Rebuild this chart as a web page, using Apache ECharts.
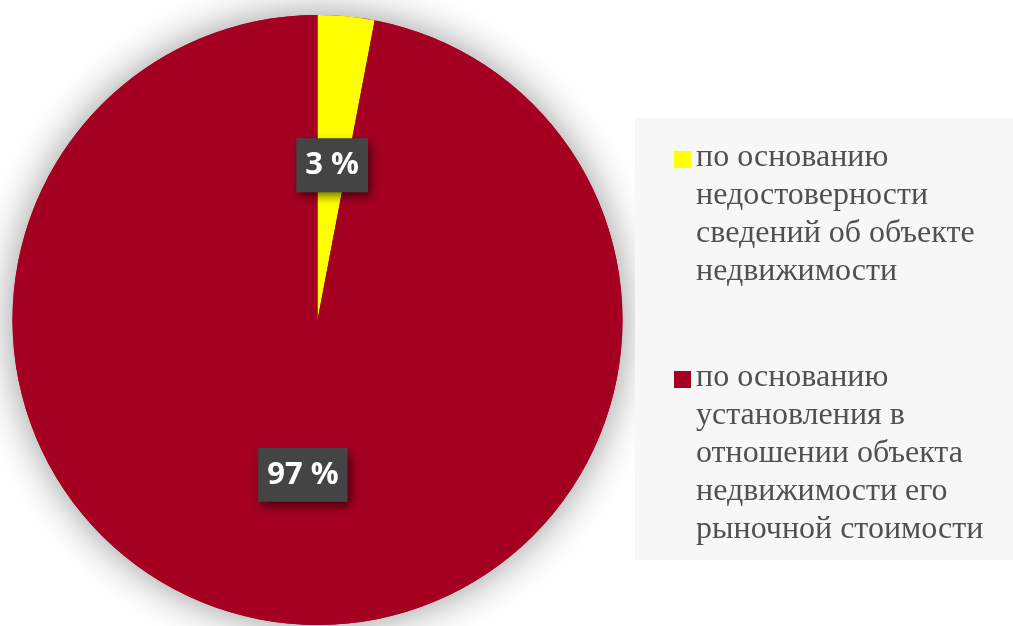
<!DOCTYPE html>
<html>
<head>
<meta charset="utf-8">
<script src="https://cdn.jsdelivr.net/npm/echarts@6/dist/echarts.min.js"></script>
<style>
  html, body { margin: 0; padding: 0; background: #ffffff; }
  #chart { width: 1013px; height: 626px; }
</style>
</head>
<body>
<div id="chart"></div>
<script>
// Grounds for the decisions, share of each (percent)
const categories = [
  'по основанию\nнедостоверности\nсведений об объекте\nнедвижимости',
  'по основанию\nустановления в\nотношении объекта\nнедвижимости его\nрыночной стоимости'
];
const values = [3, 97];
const sliceColors = ['#ffff00', '#a50021'];

// Legend marker: square sitting on the first text line of a 5-line item
const markerIcon = 'path://M0,0L17,0M0,190L17,190M0,12L17,12L17,29L0,29Z';

const total = values.reduce((a, b) => a + b, 0);
const pieCenter = [317.5, 320];
const pieRadius = 305;

const chart = echarts.init(document.getElementById('chart'), null, { renderer: 'canvas' });
chart.setOption({
  animation: false,
  backgroundColor: '#ffffff',
  legend: {
    orient: 'vertical',
    left: 635,
    top: 118,
    padding: [21, 50, 11, 39],
    backgroundColor: '#f7f7f7',
    itemGap: 30,
    itemWidth: 17,
    itemHeight: 190,
    selectedMode: false,
    icon: markerIcon,
    itemStyle: { borderWidth: 0 },
    data: categories,
    formatter: function (name) {
      const lines = name.split('\n').length;
      return lines < 5 ? name + '\n ' : name;
    },
    textStyle: {
      fontFamily: '"Liberation Serif", "Times New Roman", serif',
      fontSize: 32,
      lineHeight: 38,
      color: '#505050'
    }
  },
  series: [
    {
      // soft halo under the pie
      type: 'pie',
      silent: true,
      z: 1,
      center: pieCenter,
      radius: pieRadius,
      label: { show: false },
      labelLine: { show: false },
      emphasis: { disabled: true },
      itemStyle: {
        color: '#a50021',
        borderWidth: 0,
        shadowBlur: 40,
        shadowColor: 'rgba(0,0,0,0.42)'
      },
      data: [{ value: total }]
    },
    {
      type: 'pie',
      z: 2,
      center: pieCenter,
      radius: pieRadius,
      startAngle: 90,
      clockwise: true,
      emphasis: { disabled: true },
      itemStyle: { borderWidth: 0 },
      labelLine: { show: false },
      label: {
        show: true,
        position: 'inside',
        formatter: '{d} %',
        color: '#ffffff',
        fontFamily: '"Open Sans", "DejaVu Sans", sans-serif',
        fontWeight: 'bold',
        fontSize: 31,
        lineHeight: 34,
        padding: [10, 9],
        backgroundColor: '#444444',
        shadowColor: 'rgba(0,0,0,0.55)',
        shadowBlur: 9,
        shadowOffsetX: 3,
        shadowOffsetY: 5
      },
      data: categories.map((name, i) => ({
        name: name,
        value: values[i],
        itemStyle: { color: sliceColors[i] }
      }))
    }
  ]
});
</script>
</body>
</html>
